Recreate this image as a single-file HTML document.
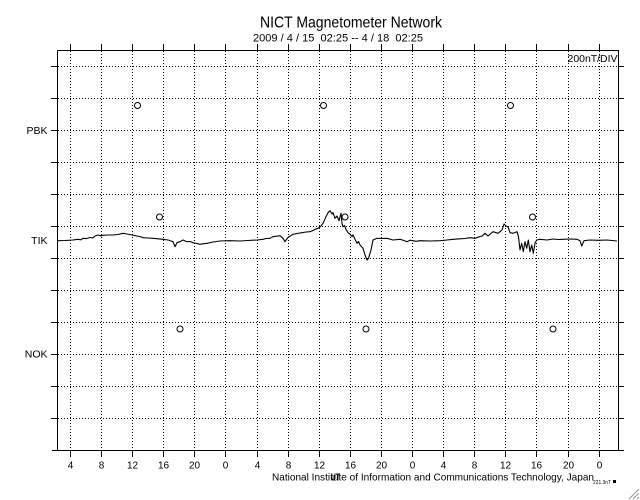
<!DOCTYPE html>
<html>
<head>
<meta charset="utf-8">
<style>
html,body{margin:0;padding:0;background:#fff;}
svg{display:block;}
text{font-family:"Liberation Sans",Arial,sans-serif;fill:#000;}
</style>
</head>
<body>
<svg width="640" height="500" viewBox="0 0 640 500" xmlns="http://www.w3.org/2000/svg">
<rect x="0" y="0" width="640" height="500" fill="#fff"/>

<!-- title -->
<text x="260" y="27.5" font-size="16" textLength="182" lengthAdjust="spacingAndGlyphs">NICT Magnetometer Network</text>
<text x="253" y="41.5" font-size="11" textLength="170" lengthAdjust="spacingAndGlyphs" style="white-space:pre">2009 / 4 / 15  02:25 -- 4 / 18  02:25</text>

<!-- dotted grid -->
<g stroke="#000" stroke-width="1" stroke-dasharray="1 2" fill="none">
<path d="M70.5 51V450M101.5 51V450M132.5 51V450M163.5 51V450M194.5 51V450M225.5 51V450M257.5 51V450M288.5 51V450M319.5 51V450M350.5 51V450M381.5 51V450M412.5 51V450M443.5 51V450M474.5 51V450M505.5 51V450M536.5 51V450M568.5 51V450M599.5 51V450"/>
<path d="M58 66.5H618M58 98.5H618M58 130.5H618M58 162.5H618M58 194.5H618M58 226.5H618M58 258.5H618M58 290.5H618M58 322.5H618M58 354.5H618M58 386.5H618M58 418.5H618"/>
</g>

<!-- frame & ticks -->
<g stroke="#000" stroke-width="1" fill="none">
<path d="M57.5 50.5H618.5V450.5M57.5 50.5V450.5M52 450.5H624"/>
<path d="M70.5 44V50M101.5 44V50M132.5 44V50M163.5 44V50M194.5 44V50M225.5 44V50M257.5 44V50M288.5 44V50M319.5 44V50M350.5 44V50M381.5 44V50M412.5 44V50M443.5 44V50M474.5 44V50M505.5 44V50M536.5 44V50M568.5 44V50M599.5 44V50"/>
<path d="M70.5 451V457M101.5 451V457M132.5 451V457M163.5 451V457M194.5 451V457M225.5 451V457M257.5 451V457M288.5 451V457M319.5 451V457M350.5 451V457M381.5 451V457M412.5 451V457M443.5 451V457M474.5 451V457M505.5 451V457M536.5 451V457M568.5 451V457M599.5 451V457"/>
<path d="M51 66.5H57M51 98.5H57M51 130.5H57M51 162.5H57M51 194.5H57M51 226.5H57M51 258.5H57M51 290.5H57M51 322.5H57M51 354.5H57M51 386.5H57M51 418.5H57"/>
<path d="M619 66.5H624M619 98.5H624M619 130.5H624M619 162.5H624M619 194.5H624M619 226.5H624M619 258.5H624M619 290.5H624M619 322.5H624M619 354.5H624M619 386.5H624M619 418.5H624"/>
</g>

<text x="567.5" y="62" font-size="10" textLength="50" lengthAdjust="spacingAndGlyphs">200nT/DIV</text>

<!-- y labels -->
<g font-size="10.5" text-anchor="end">
<text x="47.5" y="134">PBK</text>
<text x="47.5" y="244">TIK</text>
<text x="47.5" y="357.5">NOK</text>
</g>

<!-- x labels -->
<g font-size="10" text-anchor="middle">
<text x="70.5" y="468.5">4</text>
<text x="101.5" y="468.5">8</text>
<text x="132.5" y="468.5">12</text>
<text x="163.5" y="468.5">16</text>
<text x="194.5" y="468.5">20</text>
<text x="225.5" y="468.5">0</text>
<text x="257.5" y="468.5">4</text>
<text x="288.5" y="468.5">8</text>
<text x="319.5" y="468.5">12</text>
<text x="350.5" y="468.5">16</text>
<text x="381.5" y="468.5">20</text>
<text x="412.5" y="468.5">0</text>
<text x="443.5" y="468.5">4</text>
<text x="474.5" y="468.5">8</text>
<text x="505.5" y="468.5">12</text>
<text x="536.5" y="468.5">16</text>
<text x="568.5" y="468.5">20</text>
<text x="599.5" y="468.5">0</text>
</g>

<!-- circles -->
<g stroke="#000" stroke-width="1" fill="none">
<circle cx="137.5" cy="105.5" r="3"/>
<circle cx="323.5" cy="105.5" r="3"/>
<circle cx="510.5" cy="105.5" r="3"/>
<circle cx="159.5" cy="217" r="3"/>
<circle cx="345" cy="217" r="3"/>
<circle cx="532.5" cy="217" r="3"/>
<circle cx="180" cy="329" r="3"/>
<circle cx="366" cy="329" r="3"/>
<circle cx="553" cy="329" r="3"/>
</g>

<!-- TIK trace -->
<polyline fill="none" stroke="#000" stroke-width="1.1" stroke-linejoin="round" points="
58,240.7 65,240.5 73,240 76,239.6 78,239.3 81,239.8 83,238.3 86,238.6 90,237.5 93,237.9 95,236 98,235 101,235.8 103,235.3 108,235 113,235 118,234.5 123,233.3 127,234 132,235 137,236 140,236.5 143,237.7 148,238 153,238.3 158,238.8 163,239.3 168,240 173,241.7 175,246.7 177,242.7 180,241.7 183,240 187,241.7 190,241.5 193,242.7 197,243.5 200,244.3 203,243.8 207,243.3 213,242 220,241 230,240.7 240,241 248,240.5 257,240 263,239.3 266,238.5 270,238.3 273,236.7 277,236.2 280,235.7 283,238.3 285,241.7 288,237.3 291,235.6 293,234.3 297,233.5 302,232.7 306,232 310,231.7 313,230.5 315,229.3 318,228.3 321,226 323,223.3 326,216.7 328,212.7 330,210.7 332,214 333,212.5 335,218.3 337,216 339,220.7 341,213.3 342,223.3 343,226.7 344.5,225.5 346,229.3 348,232.7 350,234 352,236.7 353,234.8 355,239.3 357,243.3 358.5,241.5 360,245 363,248.3 365,255 367,260 368.5,258.3 371,250 373,240 377,238.3 382,238.5 387,238.3 393,240 400,239.3 404,240.5 407,241.7 410,240.2 413,240.7 416,241.3 420,240.7 430,241 440,240.7 447,240 453,239.3 460,238.8 465,238.5 470,237.7 475,238.3 480,236.5 482,236 485,233.3 488,236 493,231.7 498,233.3 502,230 504,224 506,226 508,226.7 510,232.7 513,233.3 517,231.7 518.5,236.7 520,250 521.7,243.3 523.3,251.7 525,241.7 526.7,248.3 528.3,240 530,251.7 531.7,245 533.3,253.3 535,243.3 536.7,240 540,239.3 547,240 553,239 558,239.5 563,239.3 570,239 577,239.3 580,240.7 581.7,246 584,240.7 590,240 598,240.3 607,240 612,240.5 617,241"/>

<!-- footer -->
<text x="272" y="480.5" font-size="10.5" textLength="322" lengthAdjust="spacingAndGlyphs">National Institute of Information and Communications Technology, Japan</text>
<text x="331" y="480.5" font-size="10.5" font-weight="bold" textLength="9" lengthAdjust="spacingAndGlyphs">UT</text>
<text x="593" y="484" font-size="5" textLength="18" lengthAdjust="spacingAndGlyphs">221.3nT</text>
<rect x="613" y="480" width="3" height="3" fill="#000"/>

<!-- resize grip -->
<g stroke="#999" stroke-width="1">
<path d="M629 499L639 489M633 499L639 493M637 499L639 497"/>
</g>
</svg>
</body>
</html>
